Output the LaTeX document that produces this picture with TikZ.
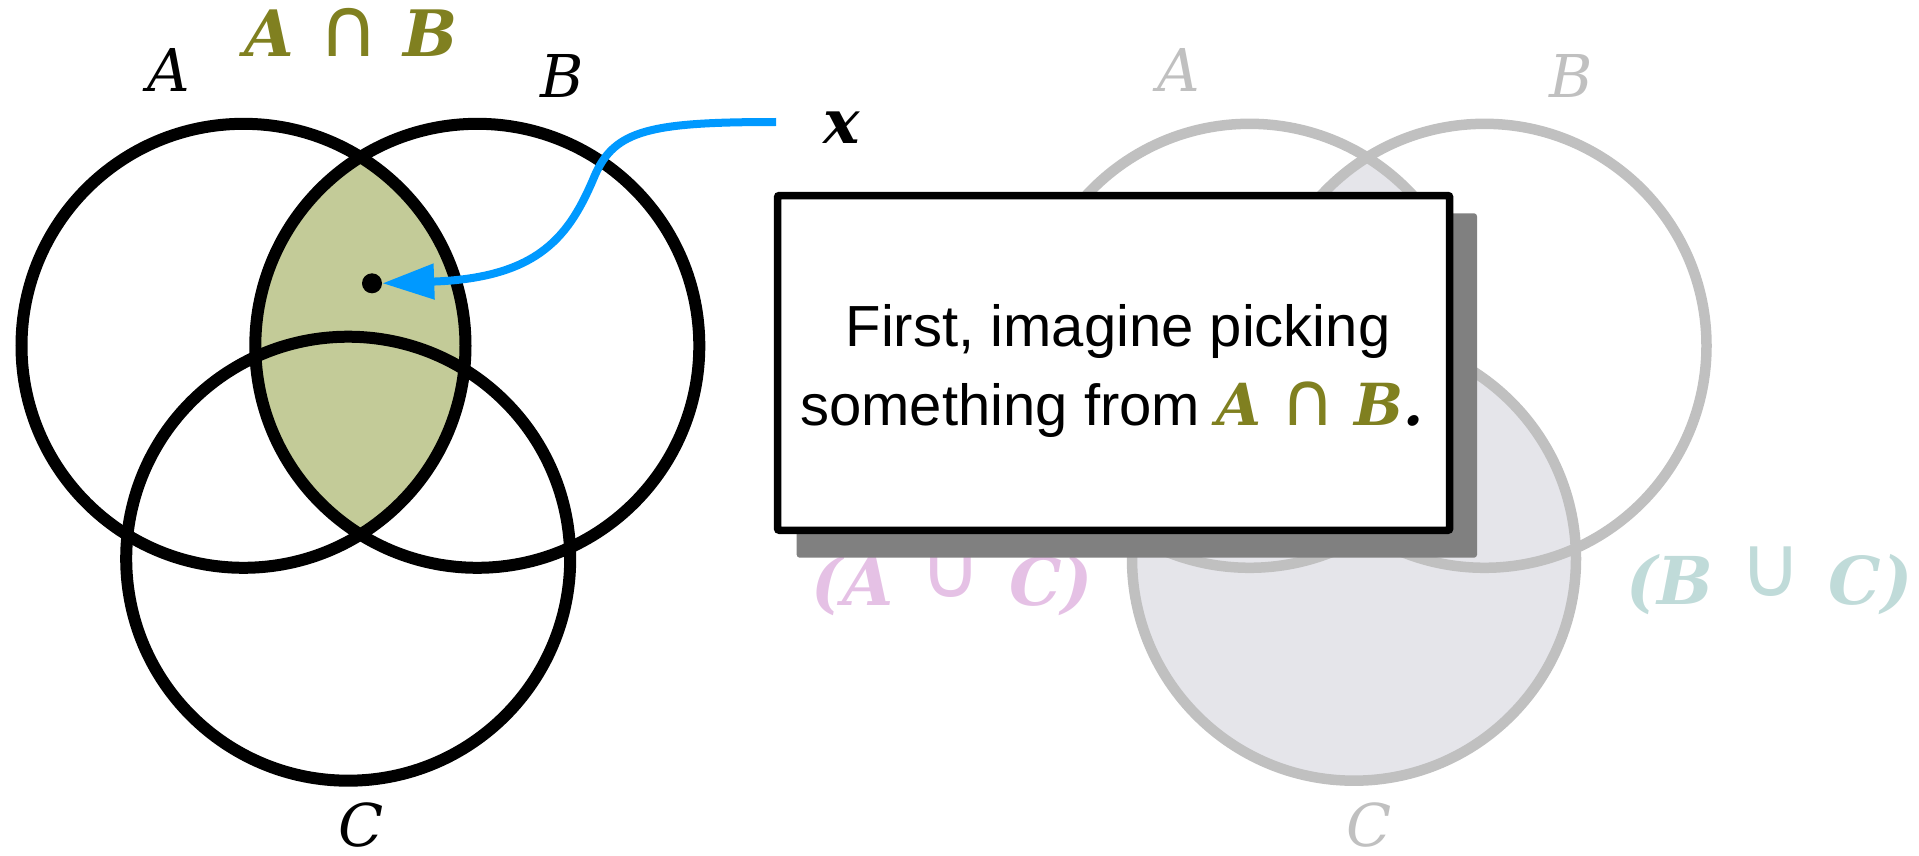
\documentclass[tikz,border=0pt]{standalone}
\usepackage{fontspec}
\usepackage{graphicx}
\setmainfont{Liberation Sans}
\newfontfamily\mathserif{DejaVu Serif}
\newfontfamily\symsans{DejaVu Sans}
\usetikzlibrary{arrows.meta}
\definecolor{olivetxt}{RGB}{128,128,32}
\definecolor{olivefill}{RGB}{195,203,152}
\definecolor{pinktxt}{RGB}{229,193,229}
\definecolor{tealtxt}{RGB}{192,219,217}
\definecolor{ghost}{RGB}{192,192,192}
\definecolor{ghostfill}{RGB}{229,229,234}
\definecolor{shadowgray}{RGB}{128,128,128}
\definecolor{arrowblue}{RGB}{0,153,255}
\newcommand{\vit}[1]{{\mathserif\itshape #1}}
\newcommand{\vbf}[1]{{\mathserif\bfseries\itshape #1}}
\newcommand{\capop}{{\symsans\scalebox{1.3}{∩}}}
\newcommand{\cupop}{{\symsans\raisebox{0.12em}{\scalebox{1.3}{∪}}}}
\begin{document}
\begin{tikzpicture}[x=1pt,y=-1pt,
  setline/.style={line width=12pt,draw=black},
  ghostline/.style={line width=10.5pt,draw=ghost},
  lbl/.style={inner sep=0pt,anchor=base,font=\fontsize{59}{70}\selectfont},
  biglbl/.style={inner sep=0pt,anchor=base,font=\fontsize{64}{76}\selectfont},
  unionlbl/.style={inner sep=0pt,anchor=base,font=\fontsize{66}{78}\selectfont},
  boxtxt/.style={inner sep=0pt,anchor=base,font=\fontsize{58}{70}\selectfont},
  msgbox/.style={draw=black,fill=white,line width=7.5pt,rounded corners=2pt,inner sep=0pt},
  shadowbox/.style={fill=shadowgray,rounded corners=3pt,inner sep=0pt}]
\useasboundingbox (0,0) rectangle (1919,856);
% centres
\coordinate (cA) at (243.5,345.8);
\coordinate (cB) at (477.3,345.8);
\coordinate (cC) at (348.2,558.7);
\coordinate (rcA) at (1249.6,345.8);
\coordinate (rcB) at (1484.5,345.8);
\coordinate (rcC) at (1354,558.7);
% right (ghost) Venn
\fill[ghostfill] (rcC) circle[radius=222pt];
\begin{scope}
  \clip (rcA) circle[radius=222pt];
  \fill[ghostfill] (rcB) circle[radius=222pt];
\end{scope}
\draw[ghostline] (rcA) circle[radius=222pt];
\draw[ghostline] (rcB) circle[radius=222pt];
\draw[ghostline] (rcC) circle[radius=222pt];
\node[lbl,text=ghost] (rA) at (1178.7,91.7) {\vit{A}};
\node[lbl,text=ghost] (rB) at (1571,97.3) {\vit{B}};
\node[lbl,text=ghost] (rC) at (1369.5,846) {\vit{C}};
\node[unionlbl,text=pinktxt] (AuC) at (952,605) {\vbf{(A}\hspace{0.12em} \cupop\hspace{0.12em} \vbf{C)}};
\node[unionlbl,text=tealtxt] (BuC) at (1769.3,604) {\vbf{(B}\hspace{0.12em} \cupop\hspace{0.12em} \vbf{C)}};
% message box
\path[shadowbox] (796.7,213.3) rectangle (1477,557.7);
\path[msgbox] (777.5,195.5) rectangle (1449.7,530.3);
\node[boxtxt] (line1) at (1118,346.7) {First, imagine picking};
\node[boxtxt] (line2) at (1112,425) {something from {\color{olivetxt}\vbf{A}\hspace{0.05em} \capop\hspace{0.05em} \vbf{B}}\vbf{.}};
% left Venn
\begin{scope}
  \clip (cA) circle[radius=222pt];
  \fill[olivefill] (cB) circle[radius=222pt];
\end{scope}
\draw[setline] (cA) circle[radius=222pt];
\draw[setline] (cB) circle[radius=222pt];
\draw[setline] (cC) circle[radius=222pt];
\node[lbl] (lA) at (169,91.7) {\vit{A}};
\node[lbl] (lB) at (562.6,97.3) {\vit{B}};
\node[lbl] (lC) at (361,846) {\vit{C}};
\node[biglbl,text=olivetxt] (lAB) at (351,56.7) {\vbf{A}\hspace{0.1em} \capop\hspace{0.1em} \vbf{B}};
% element x
\node[circle,fill=black,inner sep=0pt,minimum size=20pt] (dot) at (372,283.3) {};
\node[biglbl,font=\fontsize{61}{70}\selectfont] (xl) at (841.5,143) {\vbf{x}};
\coordinate (xs) at (776,122);
\draw[arrowblue,line width=8pt,-{Triangle[length=52pt,width=34pt]}]
  (xs) .. controls (650,122) and (615,130) .. (595,175)
       .. controls (570,235) and (540,278) .. (dot.east);
\end{tikzpicture}
\end{document}
